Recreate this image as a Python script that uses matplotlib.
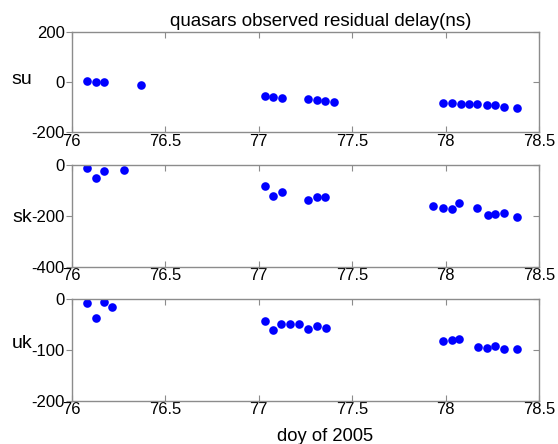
import matplotlib.pyplot as plt
from matplotlib.ticker import FormatStrFormatter

plt.rcParams['font.family'] = ['Liberation Sans', 'DejaVu Sans']

# ---------- data (day of year 2005, residual delay in ns) ----------
su_day = [76.083, 76.128, 76.174, 76.370, 77.034, 77.079, 77.124, 77.264,
          77.311, 77.357, 77.403, 77.987, 78.033, 78.080, 78.124, 78.169,
          78.224, 78.267, 78.311, 78.381]
su_val = [3, 1, -1, -12, -57, -58, -63, -69, -73, -77, -80, -83, -85, -86,
          -87, -89, -90, -93, -98, -105]

sk_day = [76.084, 76.128, 76.173, 76.280, 77.035, 77.077, 77.125, 77.264,
          77.311, 77.357, 77.932, 77.987, 78.035, 78.074, 78.169, 78.226,
          78.267, 78.311, 78.381]
sk_val = [-12, -50, -24, -21, -83, -123, -105, -139, -125, -127, -163, -168,
          -174, -151, -169, -195, -191, -190, -205]

uk_day = [76.084, 76.128, 76.173, 76.217, 77.035, 77.077, 77.122, 77.168,
          77.216, 77.266, 77.311, 77.359, 77.987, 78.035, 78.074, 78.171,
          78.222, 78.267, 78.311, 78.381]
uk_val = [-7, -37, -6, -16, -43, -60, -48, -49, -49, -59, -52, -57, -83, -80,
          -78, -95, -96, -93, -99, -98]

names = ['su', 'sk', 'uk']
days = [su_day, sk_day, uk_day]
vals = [su_val, sk_val, uk_val]
ylims = [(-200, 200), (-400, 0), (-200, 0)]
yticks = [[-200, 0, 200], [-400, -200, 0], [-200, -100, 0]]
xticks = [76, 76.5, 77, 77.5, 78, 78.5]

# axes boxes in figure fraction [left, bottom, width, height]
boxes = [[0.1285, 0.702, 0.8375, 0.2266],
         [0.1285, 0.3994, 0.8375, 0.229],
         [0.1285, 0.0975, 0.8375, 0.2284]]
label_y = [0.52, 0.479, 0.569]

fig = plt.figure(figsize=(5.58, 4.44), dpi=100)
axes = []
for k in range(3):
    ax = fig.add_axes(boxes[k])
    ax.plot(days[k], vals[k], 'o', color='#0000ff', markersize=6.2,
            markeredgewidth=0)
    ax.set_xlim(76, 78.5)
    ax.set_ylim(*ylims[k])
    ax.set_xticks(xticks)
    ax.set_yticks(yticks[k])
    ax.xaxis.set_major_formatter(FormatStrFormatter('%g'))
    ax.yaxis.set_major_formatter(FormatStrFormatter('%g'))
    for sp in ax.spines.values():
        sp.set_color('#8c8c8c')
        sp.set_linewidth(1.0)
    ax.tick_params(axis='x', direction='in', top=True, length=4,
                   color='#8c8c8c', labelsize=12, pad=1)
    ax.tick_params(axis='y', direction='out', length=4,
                   color='#8c8c8c', labelsize=12, pad=1)
    sec = ax.secondary_yaxis('right')
    sec.set_yticks(yticks[k])
    sec.tick_params(direction='in', length=4, color='#8c8c8c', labelright=False)
    sec.spines['right'].set_visible(False)
    ax.set_ylabel(names[k], rotation=0, fontsize=14, va='center', ha='center')
    ax.yaxis.set_label_coords(-0.106, label_y[k])
    axes.append(ax)

axes[0].set_title('quasars observed residual delay(ns)', fontsize=13.5,
                  x=0.533, pad=4)
axes[2].set_xlabel('doy of 2005', fontsize=13.2, labelpad=2)
axes[2].xaxis.set_label_coords(0.543, -0.27)

fig.savefig('out.png', dpi=100)
